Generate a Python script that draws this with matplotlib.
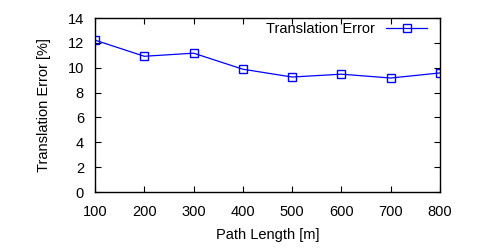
import matplotlib.pyplot as plt

plt.rcParams['font.family'] = ['Liberation Sans', 'DejaVu Sans']

path_length = [100, 200, 300, 400, 500, 600, 700, 800]
trans_error = [12.22, 10.92, 11.17, 9.88, 9.25, 9.48, 9.17, 9.58]

fig = plt.figure(figsize=(5, 2.5), dpi=100)
ax = fig.add_axes([95 / 500, 58 / 250, 345 / 500, 174 / 250])

ax.plot(path_length, trans_error, color='#0000ff', lw=0.9, marker='s',
        markersize=5.5, markerfacecolor='none', markeredgecolor='#0000ff',
        markeredgewidth=1.0, label='Translation Error')

ax.set_xlim(100, 800)
ax.set_ylim(0, 14)
ax.set_xticks(range(100, 801, 100))
ax.set_yticks(range(0, 15, 2))
ax.tick_params(direction='in', top=True, right=True, labelsize=10.5,
               length=4, width=0.8)
ax.tick_params(axis='x', pad=9)
ax.tick_params(axis='y', pad=8)
for s in ax.spines.values():
    s.set_linewidth(1.0)

ax.set_xlabel('Path Length [m]', fontsize=10.5, labelpad=7)
ax.set_ylabel('Translation Error [%]', fontsize=10.5, labelpad=12)

leg = ax.legend(loc='upper right', frameon=False, fontsize=10.5,
                markerfirst=False, handlelength=2.8, handletextpad=0.8,
                borderaxespad=0.0, bbox_to_anchor=(0.98, 1.01))

fig.savefig('out.png', dpi=100)
